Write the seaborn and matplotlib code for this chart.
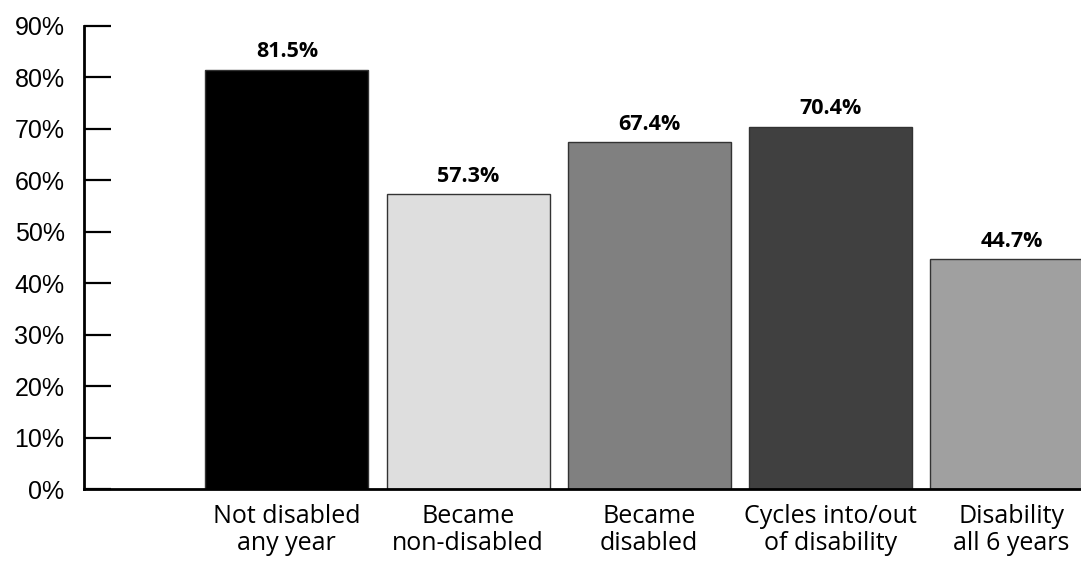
import seaborn as sns
import pandas as pd
import matplotlib.pyplot as plt

categories = ["Not disabled\nany year", "Became\nnon-disabled", "Became\ndisabled",
              "Cycles into/out\nof disability", "Disability\nall 6 years"]
values = [81.5, 57.3, 67.4, 70.4, 44.7]
colors = ["#000000", "#dedede", "#808080", "#404040", "#a0a0a0"]
yticks = [0, 10, 20, 30, 40, 50, 60, 70, 80, 90]

df = pd.DataFrame({"cat": categories, "val": values})

sns.set_style("white")
plt.rcParams["text.color"] = "black"
plt.rcParams["xtick.color"] = "black"
plt.rcParams["ytick.color"] = "black"

fig = plt.figure(figsize=(10.81, 5.61), dpi=100)
ax = fig.add_axes([0.0777, 0.1283, 0.9223, 0.8254])

sns.barplot(data=df, x="cat", y="val", hue="cat", palette=colors, legend=False,
            width=0.9, edgecolor="#333333", linewidth=1, saturation=1, ax=ax)

for i, v in enumerate(values):
    ax.annotate(f"{v}%", (i, v), xytext=(0, 9), textcoords="offset points",
                ha="center", va="baseline", fontsize=15.5, fontweight="bold",
                family="Open Sans", color="black")

ax.set_xlim(-1.12, 4.384)
ax.set_ylim(0, 90)
ax.set_yticks(yticks)
ax.set_yticklabels([f"{t}%" for t in yticks], family="Liberation Sans", fontsize=18)
ax.set_xticks(range(len(categories)))
ax.set_xticklabels(categories, family="Open Sans", fontsize=18, linespacing=1.1)
ax.tick_params(axis="y", left=True, direction="in", length=19.5, width=1.6, pad=14,
               color="black", labelcolor="black")
ax.tick_params(axis="x", bottom=False, length=0, pad=11, labelcolor="black")
ax.set_xlabel("")
ax.set_ylabel("")
sns.despine(ax=ax, top=True, right=True)
for s in ["left", "bottom"]:
    ax.spines[s].set_linewidth(2)
    ax.spines[s].set_color("black")

fig.savefig("out.png", dpi=100)
